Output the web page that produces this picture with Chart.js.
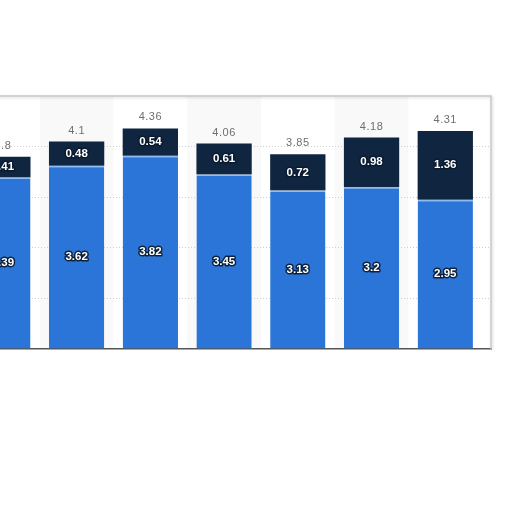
<!DOCTYPE html>
<html>
<head>
<meta charset="utf-8">
<script src="https://cdn.jsdelivr.net/npm/chart.js@4.4.0/dist/chart.umd.min.js"></script>
<style>
    html, body { margin: 0; padding: 0; background: #fff; overflow: hidden; }
    #wrap { position: absolute; left: -34px; top: 0; width: 529px; height: 512px; }
</style>
</head>
<body>
<div id="wrap"><canvas id="chart"></canvas></div>
<script>
    // --- Data (category names are not visible in the picture) ---
    const categories = ['1', '2', '3', '4', '5', '6', '7'];
    const lowerValues = [3.39, 3.62, 3.82, 3.45, 3.13, 3.2, 2.95];
    const upperValues = [0.41, 0.48, 0.54, 0.61, 0.72, 0.98, 1.36];
    const totals = [3.8, 4.1, 4.36, 4.06, 3.85, 4.18, 4.31];
    const yTicks = [0, 1, 2, 3, 4, 5];

    const blue = '#2b75d9';
    const navy = '#0f2540';

    // Alternating column shading + frame of the plot area
    const framePlugin = {
        id: 'frame',
        beforeDraw(chart) {
            const { ctx, chartArea, scales } = chart;
            ctx.save();
            ctx.fillStyle = '#f9f9f9';
            categories.forEach((c, i) => {
                if (i % 2 === 1) {
                    const x0 = scales.x.getPixelForValue(i - 0.5);
                    const x1 = scales.x.getPixelForValue(i + 0.5);
                    ctx.fillRect(x0, chartArea.top, x1 - x0, chartArea.bottom - chartArea.top);
                }
            });
            ctx.restore();
        },
        afterDraw(chart) {
            const { ctx, chartArea } = chart;
            ctx.save();
            ctx.strokeStyle = '#c9c9c9';
            ctx.lineWidth = 1.5;
            ctx.shadowColor = 'rgba(0,0,0,0.18)';
            ctx.shadowBlur = 3;
            ctx.shadowOffsetX = 1;
            ctx.shadowOffsetY = 1;
            ctx.beginPath();
            ctx.moveTo(chartArea.left, chartArea.top);
            ctx.lineTo(chartArea.right, chartArea.top);
            ctx.lineTo(chartArea.right, chartArea.bottom);
            ctx.stroke();
            ctx.restore();
        }
    };

    // Value labels inside the bars and totals above them
    const labelPlugin = {
        id: 'labels',
        afterDatasetsDraw(chart) {
            const ctx = chart.ctx;
            ctx.save();
            ctx.textAlign = 'center';
            ctx.textBaseline = 'middle';
            ctx.font = 'bold 11.5px "Liberation Sans", Arial, sans-serif';
            ctx.lineJoin = 'round';
            chart.data.datasets.forEach((ds, di) => {
                chart.getDatasetMeta(di).data.forEach((bar, i) => {
                    const y = (bar.y + bar.base) / 2;
                    const text = String(ds.data[i].y);
                    ctx.strokeStyle = 'rgba(10,25,45,0.9)';
                    ctx.lineWidth = 3;
                    ctx.strokeText(text, bar.x, y);
                    ctx.fillStyle = '#ffffff';
                    ctx.fillText(text, bar.x, y);
                });
            });
            const topMeta = chart.getDatasetMeta(1);
            ctx.font = '11px "Liberation Sans", Arial, sans-serif';
            ctx.letterSpacing = '0.5px';
            ctx.fillStyle = '#6e6e6e';
            topMeta.data.forEach((bar, i) => {
                ctx.fillText(String(totals[i]), bar.x, bar.y - 11);
            });
            ctx.restore();
        }
    };

    new Chart(document.getElementById('chart'), {
        type: 'bar',
        data: {
            datasets: [{
                label: 'lower',
                data: lowerValues.map((v, i) => ({ x: i, y: v })),
                backgroundColor: blue,
                borderColor: '#8fbcf2',
                borderWidth: { top: 1.5, left: 0, right: 0, bottom: 0 },
                borderSkipped: 'bottom',
                categoryPercentage: 1,
                barPercentage: 0.75
            }, {
                label: 'upper',
                data: upperValues.map((v, i) => ({ x: i, y: v })),
                backgroundColor: navy,
                borderWidth: 0,
                categoryPercentage: 1,
                barPercentage: 0.75
            }]
        },
        options: {
            responsive: true,
            maintainAspectRatio: false,
            animation: false,
            layout: { padding: { top: 96, bottom: 163, left: 0, right: 4 } },
            plugins: {
                legend: { display: false },
                tooltip: { enabled: false }
            },
            scales: {
                x: {
                    type: 'linear',
                    stacked: true,
                    min: -0.5,
                    max: 6.62,
                    offset: false,
                    afterBuildTicks: (scale) => { scale.ticks = categories.map((c, i) => ({ value: i })); },
                    ticks: { display: false },
                    grid: { display: false, drawTicks: false, offset: false },
                    border: { display: true, color: '#555555', width: 1.5 }
                },
                y: {
                    stacked: true,
                    min: yTicks[0],
                    max: yTicks[yTicks.length - 1],
                    afterBuildTicks: (scale) => { scale.ticks = yTicks.map(v => ({ value: v })); },
                    ticks: { display: false },
                    border: { display: false, dash: [1, 2] },
                    grid: {
                        drawTicks: false,
                        color: (c) => (c.tick && (c.tick.value === 0 || c.tick.value === 5)) ? 'rgba(0,0,0,0)' : '#cfcfcf',
                        lineWidth: 1
                    }
                }
            }
        },
        plugins: [framePlugin, labelPlugin]
    });
</script>
</body>
</html>
